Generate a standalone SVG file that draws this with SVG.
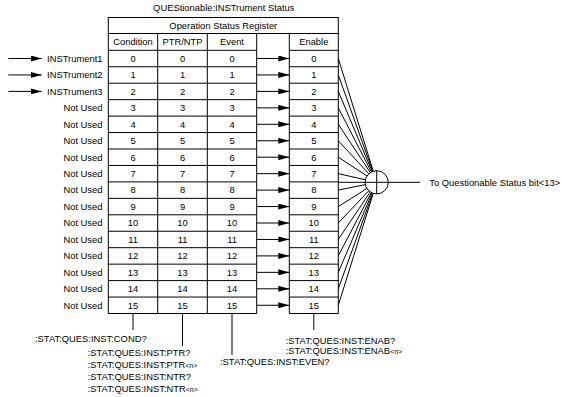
<svg xmlns="http://www.w3.org/2000/svg" width="562" height="397" viewBox="0 0 562 397">
<defs>
<marker id="ah" markerUnits="userSpaceOnUse" markerWidth="11" markerHeight="6" refX="11" refY="3" orient="auto"><path d="M0,0 L11,3 L0,6 z" fill="#000"/></marker>
<style>
text{font-family:"Liberation Sans",Arial,sans-serif;font-size:9.4px;fill:#000}
.c{text-anchor:middle}
.e{text-anchor:end}
.sm{font-size:7px}
.ln{stroke:#000;stroke-width:1;fill:none}
.ar{stroke:#000;stroke-width:1;fill:none;marker-end:url(#ah)}
</style>
</defs>
<rect width="562" height="397" fill="#fff"/>
<g id="title"><text class="c" x="223.8" y="10.6">QUEStionable:INSTrument Status</text></g>

<g id="inputs">
<text class="e" x="102.5" y="61.8">INSTrument1</text>
<text class="e" x="102.5" y="78.25">INSTrument2</text>
<text class="e" x="102.5" y="94.7">INSTrument3</text>
<text class="e" x="102.5" y="111.15">Not Used</text>
<text class="e" x="102.5" y="127.6">Not Used</text>
<text class="e" x="102.5" y="144.05">Not Used</text>
<text class="e" x="102.5" y="160.5">Not Used</text>
<text class="e" x="102.5" y="176.95">Not Used</text>
<text class="e" x="102.5" y="193.4">Not Used</text>
<text class="e" x="102.5" y="209.85">Not Used</text>
<text class="e" x="102.5" y="226.3">Not Used</text>
<text class="e" x="102.5" y="242.75">Not Used</text>
<text class="e" x="102.5" y="259.2">Not Used</text>
<text class="e" x="102.5" y="275.65">Not Used</text>
<text class="e" x="102.5" y="292.1">Not Used</text>
<text class="e" x="102.5" y="308.55">Not Used</text>
</g>

<g id="register">
<rect class="ln" x="108.3" y="17.5" width="230" height="16"/>
<text class="c" x="223.3" y="28.8">Operation Status Register</text>
<path class="ln" d="M108.3,33.5 V313.5 M157.7,33.5 V313.5 M207.3,33.5 V313.5 M256.7,33.5 V313.5 M289.3,33.5 V313.5 M338.3,33.5 V313.5"/>
<path class="ln" d="M108.3,50.3 H256.7 M108.3,66.75 H256.7 M108.3,83.2 H256.7 M108.3,99.65 H256.7 M108.3,116.1 H256.7 M108.3,132.55 H256.7 M108.3,149 H256.7 M108.3,165.45 H256.7 M108.3,181.9 H256.7 M108.3,198.35 H256.7 M108.3,214.8 H256.7 M108.3,231.25 H256.7 M108.3,247.7 H256.7 M108.3,264.15 H256.7 M108.3,280.6 H256.7 M108.3,297.05 H256.7 M108.3,313.5 H256.7"/>
<path class="ln" d="M289.3,50.3 H338.3 M289.3,66.75 H338.3 M289.3,83.2 H338.3 M289.3,99.65 H338.3 M289.3,116.1 H338.3 M289.3,132.55 H338.3 M289.3,149 H338.3 M289.3,165.45 H338.3 M289.3,181.9 H338.3 M289.3,198.35 H338.3 M289.3,214.8 H338.3 M289.3,231.25 H338.3 M289.3,247.7 H338.3 M289.3,264.15 H338.3 M289.3,280.6 H338.3 M289.3,297.05 H338.3 M289.3,313.5 H338.3"/>
<text class="c" x="133" y="45.2">Condition</text>
<text class="c" x="182.5" y="45.2">PTR/NTP</text>
<text class="c" x="232" y="45.2">Event</text>
<text class="c" x="313.8" y="45.2">Enable</text>
<g>
<text class="c" x="133" y="61.8">0</text><text class="c" x="182.5" y="61.8">0</text><text class="c" x="232" y="61.8">0</text><text class="c" x="313.8" y="61.8">0</text>
<text class="c" x="133" y="78.25">1</text><text class="c" x="182.5" y="78.25">1</text><text class="c" x="232" y="78.25">1</text><text class="c" x="313.8" y="78.25">1</text>
<text class="c" x="133" y="94.7">2</text><text class="c" x="182.5" y="94.7">2</text><text class="c" x="232" y="94.7">2</text><text class="c" x="313.8" y="94.7">2</text>
<text class="c" x="133" y="111.15">3</text><text class="c" x="182.5" y="111.15">3</text><text class="c" x="232" y="111.15">3</text><text class="c" x="313.8" y="111.15">3</text>
<text class="c" x="133" y="127.6">4</text><text class="c" x="182.5" y="127.6">4</text><text class="c" x="232" y="127.6">4</text><text class="c" x="313.8" y="127.6">4</text>
<text class="c" x="133" y="144.05">5</text><text class="c" x="182.5" y="144.05">5</text><text class="c" x="232" y="144.05">5</text><text class="c" x="313.8" y="144.05">5</text>
<text class="c" x="133" y="160.5">6</text><text class="c" x="182.5" y="160.5">6</text><text class="c" x="232" y="160.5">6</text><text class="c" x="313.8" y="160.5">6</text>
<text class="c" x="133" y="176.95">7</text><text class="c" x="182.5" y="176.95">7</text><text class="c" x="232" y="176.95">7</text><text class="c" x="313.8" y="176.95">7</text>
<text class="c" x="133" y="193.4">8</text><text class="c" x="182.5" y="193.4">8</text><text class="c" x="232" y="193.4">8</text><text class="c" x="313.8" y="193.4">8</text>
<text class="c" x="133" y="209.85">9</text><text class="c" x="182.5" y="209.85">9</text><text class="c" x="232" y="209.85">9</text><text class="c" x="313.8" y="209.85">9</text>
<text class="c" x="133" y="226.3">10</text><text class="c" x="182.5" y="226.3">10</text><text class="c" x="232" y="226.3">10</text><text class="c" x="313.8" y="226.3">10</text>
<text class="c" x="133" y="242.75">11</text><text class="c" x="182.5" y="242.75">11</text><text class="c" x="232" y="242.75">11</text><text class="c" x="313.8" y="242.75">11</text>
<text class="c" x="133" y="259.2">12</text><text class="c" x="182.5" y="259.2">12</text><text class="c" x="232" y="259.2">12</text><text class="c" x="313.8" y="259.2">12</text>
<text class="c" x="133" y="275.65">13</text><text class="c" x="182.5" y="275.65">13</text><text class="c" x="232" y="275.65">13</text><text class="c" x="313.8" y="275.65">13</text>
<text class="c" x="133" y="292.1">14</text><text class="c" x="182.5" y="292.1">14</text><text class="c" x="232" y="292.1">14</text><text class="c" x="313.8" y="292.1">14</text>
<text class="c" x="133" y="308.55">15</text><text class="c" x="182.5" y="308.55">15</text><text class="c" x="232" y="308.55">15</text><text class="c" x="313.8" y="308.55">15</text>
</g>
</g>

<g id="or-gate">
<circle class="ln" cx="376.7" cy="182.3" r="11.6"/>
<path class="ln" d="M376.7,170.7 V193.9"/>
</g>

<g id="output"><text x="429.3" y="185.5">To Questionable Status bit&lt;13&gt;</text></g>

<g id="commands">
<text x="35" y="342">:STAT:QUES:INST:COND?</text>
<text x="87.7" y="355.5">:STAT:QUES:INST:PTR?</text>
<text x="87.7" y="367.5">:STAT:QUES:INST:PTR<tspan class="sm">&lt;n&gt;</tspan></text>
<text x="87.7" y="379.5">:STAT:QUES:INST:NTR?</text>
<text x="87.7" y="391.5">:STAT:QUES:INST:NTR<tspan class="sm">&lt;n&gt;</tspan></text>
<text x="220" y="365">:STAT:QUES:INST:EVEN?</text>
<text x="285.7" y="344">:STAT:QUES:INST:ENAB?</text>
<text x="285.7" y="353.5">:STAT:QUES:INST:ENAB<tspan class="sm">&lt;n&gt;</tspan></text>
</g>

<g id="connectors">
<path class="ar" d="M8.3,58.5 H41.7"/>
<path class="ar" d="M8.3,74.95 H41.7"/>
<path class="ar" d="M8.3,91.4 H41.7"/>
<path class="ar" d="M256.7,58.5 H289.3"/>
<path class="ar" d="M256.7,74.95 H289.3"/>
<path class="ar" d="M256.7,91.4 H289.3"/>
<path class="ar" d="M256.7,107.85 H289.3"/>
<path class="ar" d="M256.7,124.3 H289.3"/>
<path class="ar" d="M256.7,140.75 H289.3"/>
<path class="ar" d="M256.7,157.2 H289.3"/>
<path class="ar" d="M256.7,173.65 H289.3"/>
<path class="ar" d="M256.7,190.1 H289.3"/>
<path class="ar" d="M256.7,206.55 H289.3"/>
<path class="ar" d="M256.7,223 H289.3"/>
<path class="ar" d="M256.7,239.45 H289.3"/>
<path class="ar" d="M256.7,255.9 H289.3"/>
<path class="ar" d="M256.7,272.35 H289.3"/>
<path class="ar" d="M256.7,288.8 H289.3"/>
<path class="ar" d="M256.7,305.25 H289.3"/>
<path class="ln" d="M338.3,58.5 L373.26,171.22 M338.3,74.95 L372.79,171.38 M338.3,91.4 L372.19,171.61 M338.3,107.85 L371.38,171.99 M338.3,124.3 L370.3,172.63 M338.3,140.75 L368.83,173.78 M338.3,157.2 L366.99,175.95 M338.3,173.65 L365.38,179.75 M338.3,190.1 L365.33,184.61 M338.3,206.55 L366.89,188.49 M338.3,223 L368.74,190.74 M338.3,239.45 L370.23,191.93 M338.3,255.9 L371.33,192.58 M338.3,272.35 L372.15,192.97 M338.3,288.8 L372.77,193.21 M338.3,305.25 L373.24,193.37"/>
<path class="ln" d="M338.3,182.3 H420"/>
<path class="ln" d="M133,313.5 V330 M182.5,313.5 V346 M232,313.5 V355 M313.8,313.5 V330"/>
</g>
</svg>
